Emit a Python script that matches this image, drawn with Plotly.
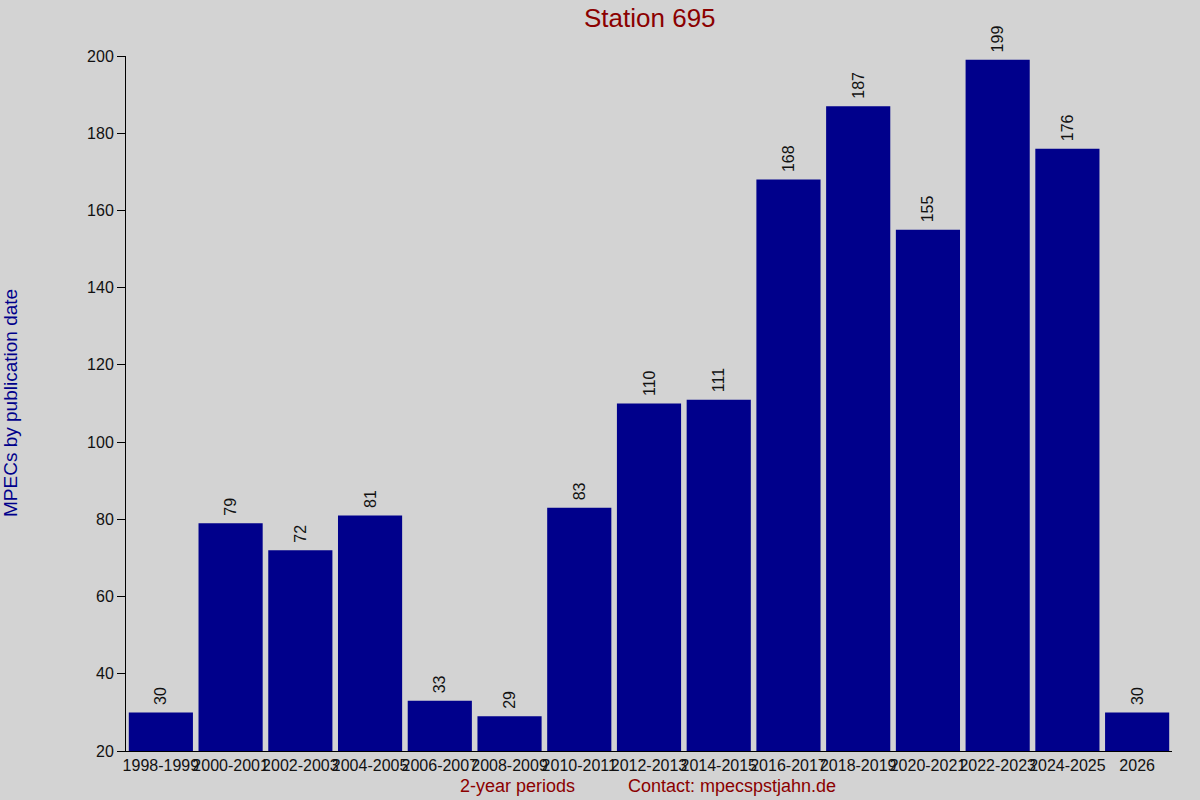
import plotly.graph_objects as go

# Dados do gráfico
periodos = ['1998-1999', '2000-2001', '2002-2003', '2004-2005', '2006-2007',
            '2008-2009', '2010-2011', '2012-2013', '2014-2015', '2016-2017',
            '2018-2019', '2020-2021', '2022-2023', '2024-2025', '2026']
mpecs = [30, 79, 72, 81, 33, 29, 83, 110, 111, 168, 187, 155, 199, 176, 30]
y_ticks = [20, 40, 60, 80, 100, 120, 140, 160, 180, 200]

fonte = 'Liberation Sans, Arial, sans-serif'
largura_plot = 1200 - 126 - 28
altura_plot = 800 - 56 - 49

fig = go.Figure(go.Bar(
    x=periodos,
    y=mpecs,
    marker_color='#00008B',
    marker_line_width=0,
    text=['<span> </span>' + str(v) for v in mpecs],
    textposition='outside',
    textangle=-90,
    constraintext='none',
    cliponaxis=False,
    textfont=dict(family=fonte, size=16, color='#111111'),
))

fig.update_layout(
    width=1200, height=800,
    paper_bgcolor='#D3D3D3',
    plot_bgcolor='#D3D3D3',
    margin=dict(l=126, r=28, t=56, b=49),
    bargap=0.08,
    showlegend=False,
    font=dict(family=fonte, size=16, color='#111111'),
    title=dict(text='Station 695', x=0.5415, xanchor='center', y=0.978, yanchor='middle',
               font=dict(family=fonte, size=26, color='#8B0000')),
)

fig.update_yaxes(
    range=[20, 200],
    tickvals=y_ticks,
    showgrid=False, zeroline=False,
    showline=True, linecolor='#000000', linewidth=1,
    ticks='outside', ticklen=8, tickcolor='#000000',
    tickfont=dict(size=16, color='#111111'),
)

fig.update_xaxes(
    showgrid=False, zeroline=False,
    showline=True, linecolor='#000000', linewidth=1,
    ticks='', tickangle=0,
    tickfont=dict(size=16, color='#111111'),
)

# Título do eixo y
fig.add_annotation(text='MPECs by publication date', xref='paper', yref='paper',
                   x=(10 - 126) / largura_plot, y=(751 - 403) / altura_plot,
                   xanchor='center', yanchor='middle', textangle=-90, showarrow=False,
                   font=dict(family=fonte, size=19, color='#00008B'))

# Rótulos do eixo x em vermelho escuro
fig.add_annotation(text='2-year periods', xref='paper', yref='paper',
                   x=(517 - 126) / largura_plot, y=-35 / altura_plot,
                   xanchor='center', yanchor='middle', showarrow=False,
                   font=dict(family=fonte, size=18, color='#8B0000'))
fig.add_annotation(text='Contact: mpecspstjahn.de', xref='paper', yref='paper',
                   x=(732 - 126) / largura_plot, y=-35 / altura_plot,
                   xanchor='center', yanchor='middle', showarrow=False,
                   font=dict(family=fonte, size=18, color='#8B0000'))

fig.write_html('out.html', config={'displayModeBar': False},
               post_script="document.body.style.margin='0';")
